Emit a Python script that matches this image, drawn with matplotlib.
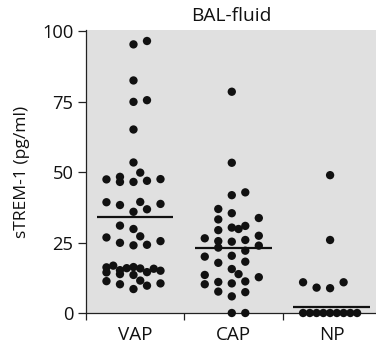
import matplotlib.pyplot as plt
import numpy as np
from matplotlib.ticker import FixedLocator

plt.rcParams["font.family"] = ["Open Sans", "DejaVu Sans"]

groups = ["VAP", "CAP", "NP"]

# sTREM-1 values per group (pg/ml) with the swarm column each dot sits in
vap_values = [96.5, 95.3, 82.5, 75.5, 74.9, 65.1, 53.4, 49.8, 47.4, 48.3, 46.5, 46.5,
              46.9, 47.5, 39.3, 38.3, 39.4, 35.9, 36.8, 38.7, 31.0, 29.8, 26.8, 27.2,
              24.9, 24.0, 24.2, 25.5, 16.2, 14.4, 16.8, 15.2, 13.8, 15.9, 16.3, 15.8,
              13.5, 14.5, 15.7, 15.0, 11.3, 10.2, 8.5, 11.5, 9.7, 10.5]
vap_slots = [2, 0, 0, 2, 0, 0, 0, 1, -4, -2, -2, 0,
             2, 4, -4, -2, 1, 0, 2, 4, -2, 0, -4, 1,
             -2, 0, 2, 4, -4, -4, -3, -2, -2, -1, 0, 1,
             0, 2, 3, 4, -4, -2, 0, 1, 2, 4]

cap_values = [78.5, 53.3, 41.8, 42.8, 36.9, 33.2, 35.4, 33.7, 29.4, 30.3, 29.8, 30.9,
              26.5, 25.5, 25.3, 25.9, 27.4, 23.2, 22.1, 23.9, 20.0, 20.3, 17.8, 18.2,
              15.6, 13.8, 13.5, 10.2, 11.0, 10.5, 11.2, 12.7, 7.6, 7.4, 5.9, 0.0, 0.0]
cap_slots = [0, 0, 0, 2, -2, -2, 0, 4, -2, 0, 1, 2,
             -4, -2, 0, 2, 4, -2, 2, 4, -4, 0, -2, 2,
             0, 1, -4, -4, -2, 0, 2, 4, -2, 2, 0, 0, 2]

np_values = [48.9, 25.9, 10.9, 9.0, 8.8, 10.9, 0.0, 0.0, 0.0, 0.0, 0.0, 0.0, 0.0, 0.0, 0.0]
np_slots = [0, 0, -4, -2, 0, 2, -4, -3, -2, -1, 0, 1, 2, 3, 4]

# horizontal bar per group
group_centers = [33.9, 23.2, 2.0]

yticks = [0, 25, 50, 75, 100]

SLOT = 0.0687
SHIFT = -0.017
HALF = 0.39

fig = plt.figure(figsize=(3.76, 3.45), dpi=100)
ax = fig.add_axes([86 / 376, 32 / 345, 290 / 376, 283 / 345])
ax.set_facecolor("#e0e0e0")

series = [(vap_values, vap_slots), (cap_values, cap_slots), (np_values, np_slots)]
for i, (vals, slots) in enumerate(series):
    pos = i + 1
    x = pos + SHIFT + SLOT * np.asarray(slots, dtype=float)
    ax.scatter(x, vals, s=36, color="#111111", edgecolors="none", zorder=3, clip_on=False)
    ax.plot([pos - HALF, pos + HALF], [group_centers[i]] * 2, color="#111111",
            linewidth=1.6, zorder=4, solid_capstyle="butt")

ax.set_xlim(0.5, 3.45)
ax.set_ylim(0, 100.4)

ax.spines["top"].set_visible(False)
ax.spines["right"].set_visible(False)
for side in ("left", "bottom"):
    ax.spines[side].set_linewidth(0.9)
    ax.spines[side].set_color("#222222")
    ax.spines[side].set_zorder(2.5)

ax.set_yticks(yticks)
ax.tick_params(axis="y", direction="out", length=6, width=0.9, color="#222222",
               pad=3, labelsize=13.2, labelcolor="#111111")

ax.set_xticks([1, 2, 3])
ax.set_xticklabels(groups)
ax.xaxis.set_minor_locator(FixedLocator([0.5, 1.5, 2.5]))
ax.tick_params(axis="x", which="major", length=0, pad=9, labelsize=13.6, labelcolor="#111111")
ax.tick_params(axis="x", which="minor", direction="out", length=5, width=0.9, color="#222222")

ax.set_ylabel("sTREM-1 (pg/ml)", fontsize=12.6, color="#111111", labelpad=9)
ax.set_title("BAL-fluid", fontsize=13.8, color="#111111", pad=6.5)

fig.savefig("out.png", dpi=100)
